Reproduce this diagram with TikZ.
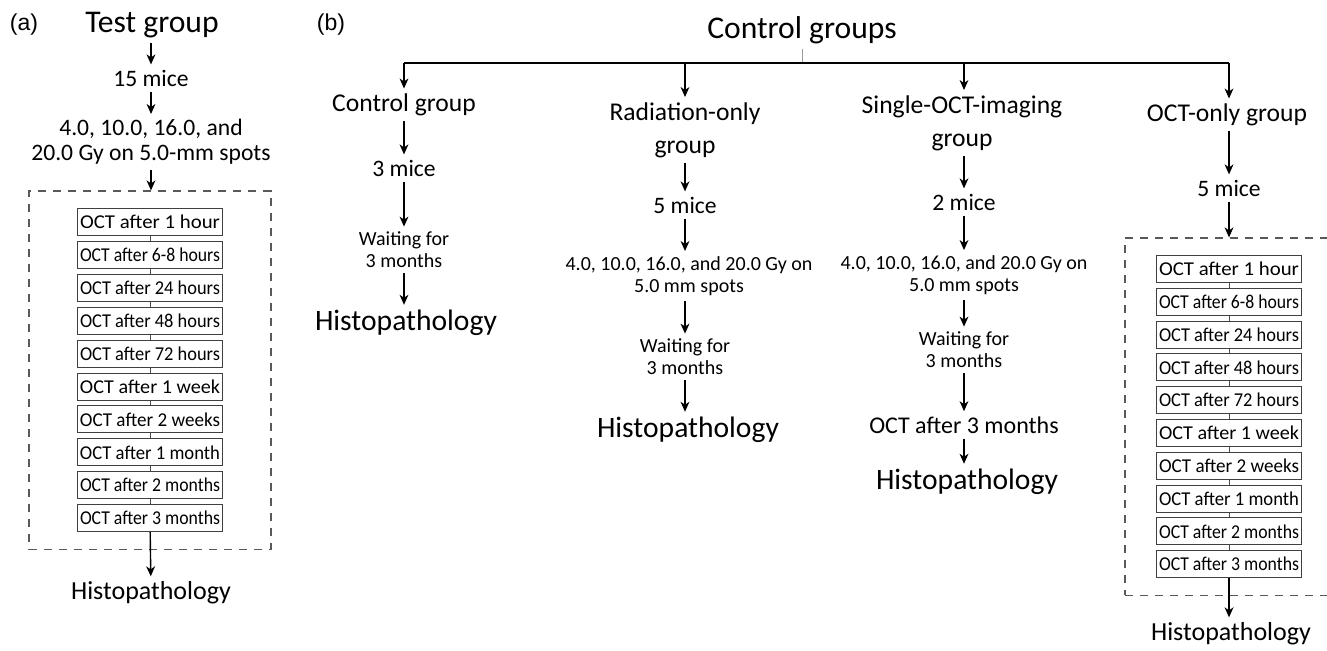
\documentclass[tikz,border=0pt]{standalone}
\usepackage{fontspec}
\usepackage{graphicx}
\setmainfont{Carlito}
\newfontfamily\panelfont{Liberation Sans}
\usetikzlibrary{arrows.meta}
\usetikzlibrary{fit}

\begin{document}
\begin{tikzpicture}[x=0.5pt,y=-0.5pt]
	\tikzstyle{arr}=[-{Stealth[length=5pt,width=4.4pt,inset=1.5pt]},line width=0.7pt]
	\tikzstyle{panel}=[font=\panelfont\fontsize{11.5}{14}\selectfont]
	\tikzstyle{head}=[inner ysep=2.5pt,font=\fontsize{15.8}{18}\selectfont]
	\tikzstyle{histo}=[inner ysep=2.5pt,font=\fontsize{14.8}{17}\selectfont]
	\tikzstyle{grp}=[inner ysep=2.5pt,align=center,font=\fontsize{12.8}{16.5}\selectfont]
	\tikzstyle{mice}=[inner ysep=2.5pt,align=center,font=\fontsize{11.8}{12.5}\selectfont]
	\tikzstyle{note}=[inner ysep=2.5pt,align=center,font=\fontsize{10}{11}\selectfont]
	\tikzstyle{octbox}=[draw=black!75,line width=0.5pt,minimum width=72.5pt,minimum height=13.5pt,inner sep=0pt,font=\fontsize{9.8}{10}\selectfont]
	\tikzstyle{dashbox}=[draw=black!65,dash pattern=on 4pt off 3.5pt,line width=0.6pt,inner ysep=8.5pt]
	\tikzstyle{tick}=[line width=0.4pt,black!70]

	\useasboundingbox (0,0) rectangle (1327,650);

	% (a) test group
	\node[panel] (pa) at (24,25) {(a)};
	\node[head] (ta) at (152,25) {Test group};
	\node[mice] (tb) at (151,78) {15 mice};
	\node[mice] (tc) at (151,142) {4.0, 10.0, 16.0, and\\20.0 Gy on 5.0-mm spots};
	\foreach \t [count=\i] in {OCT after 1 hour,OCT after 6-8 hours,OCT after 24 hours,OCT after 48 hours,OCT after 72 hours,OCT after 1 week,OCT after 2 weeks,OCT after 1 month,OCT after 2 months,OCT after 3 months}
		\node[octbox] (a\i) at (150,{222+32.9*(\i-1)}) {\resizebox{70pt}{\height}{\t}};
	\node[dashbox,inner xsep=24pt,fit=(a1)(a10)] (boxa) {};
	\node[histo,font=\fontsize{13}{15}\selectfont] (ah) at (151,593) {Histopathology};
	\draw[arr] (tb |- ta.south) -- (tb);
	\draw[arr] (tb) -- (tc);
	\draw[arr] (tc) -- (tc |- boxa.north);
	\foreach \i in {1,...,9}{
		\pgfmathtruncatemacro\j{\i+1}
		\draw[tick] (a\i) -- (a\j);
	}
	\draw[arr] (a10) -- (ah);

	% (b) control groups
	\node[panel] (pb) at (331,25) {(b)};
	\node[head] (ct) at (802,30) {Control groups};
	\coordinate (b1) at (404,63);
	\coordinate (b2) at (685,63);
	\coordinate (b3) at (964,63);
	\coordinate (b4) at (1229,63);
	\draw[black!40,line width=0.3pt] (ct) -- (ct |- b1);
	\draw[line width=0.7pt] (b1) -- (b4);

	% control group
	\node[grp] (g1) at (404,105) {Control group};
	\node[mice] (m1) at (404,168) {3 mice};
	\node[note] (w1) at (404,250) {Waiting for\\3 months};
	\node[histo] (h1) at (406,323) {Histopathology};
	\draw[arr] (b1) -- (g1);
	\draw[arr] (g1) -- (m1);
	\draw[arr] (m1) -- (w1);
	\draw[arr] (w1) -- (w1 |- h1.north);

	% radiation-only group
	\node[grp] (g2) at (685,130) {Radiation-only\\group};
	\node[mice] (m2) at (685,205) {5 mice};
	\node[note] (d2) at (689,276) {4.0, 10.0, 16.0, and 20.0 Gy on\\5.0 mm spots};
	\node[note] (w2) at (685,357) {Waiting for\\3 months};
	\node[histo] (h2) at (688,430) {Histopathology};
	\draw[arr] (b2) -- (g2);
	\draw[arr] (g2) -- (m2);
	\draw[arr] (m2) -- (m2 |- d2.north);
	\draw[arr] (m2 |- d2.south) -- (w2);
	\draw[arr] (w2) -- (w2 |- h2.north);

	% single-OCT-imaging group
	\node[grp] (g3) at (962,123) {Single-OCT-imaging\\group};
	\node[mice] (m3) at (964,202) {2 mice};
	\node[note] (d3) at (964,275) {4.0, 10.0, 16.0, and 20.0 Gy on\\5.0 mm spots};
	\node[note] (w3) at (964,350) {Waiting for\\3 months};
	\node[mice,font=\fontsize{12}{14}\selectfont] (o3) at (964,425) {OCT after 3 months};
	\node[histo] (h3) at (967,482) {Histopathology};
	\draw[arr] (b3) -- (b3 |- g3.north);
	\draw[arr] (b3 |- g3.south) -- (m3);
	\draw[arr] (m3) -- (d3);
	\draw[arr] (d3) -- (w3);
	\draw[arr] (w3) -- (o3);
	\draw[arr] (o3) -- (o3 |- h3.north);

	% OCT-only group
	\node[grp] (g4) at (1227,115) {OCT-only group};
	\node[mice] (m4) at (1229,188) {5 mice};
	\foreach \t [count=\i] in {OCT after 1 hour,OCT after 6-8 hours,OCT after 24 hours,OCT after 48 hours,OCT after 72 hours,OCT after 1 week,OCT after 2 weeks,OCT after 1 month,OCT after 2 months,OCT after 3 months}
		\node[octbox] (d\i) at (1229,{269+32.8*(\i-1)}) {\resizebox{70pt}{\height}{\t}};
	\node[dashbox,inner xsep=15.5pt,fit=(d1)(d10)] (boxd) {};
	\node[histo,font=\fontsize{13}{15}\selectfont] (h4) at (1231,634) {Histopathology};
	\draw[arr] (b4) -- (b4 |- g4.north);
	\draw[arr] (b4 |- g4.south) -- (m4);
	\draw[arr] (m4) -- (m4 |- boxd.north);
	\foreach \i in {1,...,9}{
		\pgfmathtruncatemacro\j{\i+1}
		\draw[tick] (d\i) -- (d\j);
	}
	\draw[arr] (d10) -- (d10 |- h4.north);
\end{tikzpicture}
\end{document}
